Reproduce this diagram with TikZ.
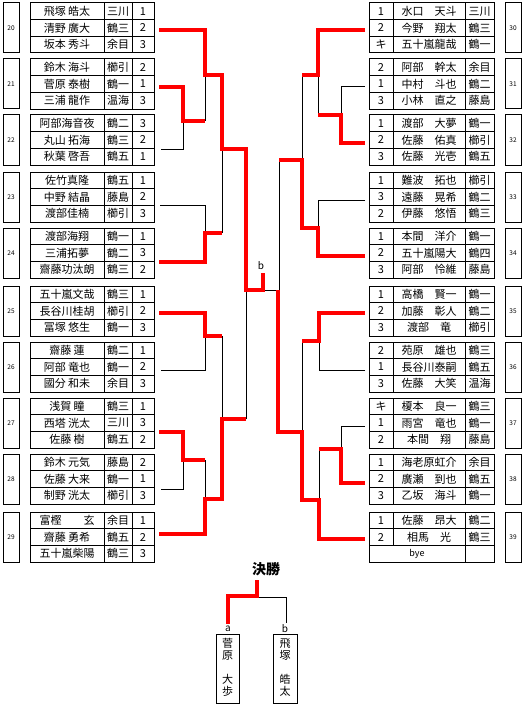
\documentclass[tikz,border=0pt]{standalone}
\usepackage{fontspec}
\setmainfont{Noto Sans CJK JP}
\begin{document}
\begin{tikzpicture}[x=1pt,y=-1pt,
  cell/.style={draw, line width=1pt, inner sep=0pt, outer sep=0pt, minimum height=16.667pt, anchor=north west, font=\fontsize{11}{11}\selectfont},
  lab/.style={draw, line width=1pt, inner sep=0pt, outer sep=0pt, minimum width=16pt, minimum height=50pt, anchor=north west, font=\fontsize{6.5}{6.5}\selectfont},
  win/.style={draw=red, line width=4pt, line join=miter},
  lose/.style={draw=black, line width=1pt},
  tag/.style={inner sep=0pt, font=\fontsize{10}{10}\selectfont}]
\useasboundingbox (0,0) rectangle (525,706);
\fill[white] (0,0) rectangle (525,706);

\newcommand\LG[3]{%
  \node[lab] (L#1) at (3,#2) {#1};
  \foreach \nm/\sc/\nu [count=\i] in {#3}{%
    \node[cell,minimum width=74pt] (L#1a\i) at ({30},{#2+(\i-1)*16.667}) {\nm};
    \node[cell,minimum width=28pt] (L#1b\i) at ({104},{#2+(\i-1)*16.667}) {\sc};
    \node[cell,minimum width=22pt] (L#1c\i) at ({132},{#2+(\i-1)*16.667}) {\nu};
  }%
}
\newcommand\RG[3]{%
  \node[lab] (R#1) at (505,#2) {#1};
  \foreach \nu/\nm/\sc [count=\i] in {#3}{%
    \node[cell,minimum width=24pt] (R#1a\i) at ({369},{#2+(\i-1)*16.667}) {\nu};
    \node[cell,minimum width=72pt] (R#1b\i) at ({393},{#2+(\i-1)*16.667}) {\nm};
    \node[cell,minimum width=29pt] (R#1c\i) at ({465},{#2+(\i-1)*16.667}) {\sc};
  }%
}

% ---- left groups
\LG{20}{3}{飛塚 皓太/三川/1, 清野 廣大/鶴三/2, 坂本 秀斗/余目/3}
\LG{21}{59}{鈴木 海斗/櫛引/2, 菅原 泰樹/鶴一/1, 三浦 龍作/温海/3}
\LG{22}{115}{阿部海音夜/鶴二/3, 丸山 拓海/鶴三/2, 秋葉 啓吾/鶴五/1}
\LG{23}{172}{佐竹真隆/鶴五/1, 中野 結晶/藤島/2, 渡部佳楠/櫛引/3}
\LG{24}{228}{渡部海翔/鶴一/1, 三浦拓夢/鶴二/3, 齋藤功汰朗/鶴三/2}
\LG{25}{286}{五十嵐文哉/鶴三/1, 長谷川桂胡/櫛引/2, 冨塚 悠生/鶴一/3}
\LG{26}{342}{齋藤 蓮/鶴二/1, 阿部 竜也/鶴一/2, 國分 和未/余目/3}
\LG{27}{398}{浅賀 瞳/鶴三/1, 西塔 洸太/三川/3, 佐藤 樹/鶴五/2}
\LG{28}{454}{鈴木 元気/藤島/2, 佐藤 大来/鶴一/1, 制野 洸太/櫛引/3}
\LG{29}{512}{富樫　　玄/余目/1, 齋藤 勇希/鶴五/2, 五十嵐柴陽/鶴三/3}

% ---- right groups
\RG{30}{3}{1/水口　天斗/三川, 2/今野　翔太/鶴三, キ/五十嵐龍哉/鶴一}
\RG{31}{59}{2/阿部　幹太/余目, 1/中村　斗也/鶴二, 3/小林　直之/藤島}
\RG{32}{115}{1/渡部　大夢/鶴一, 2/佐藤　佑真/櫛引, 3/佐藤　光壱/鶴五}
\RG{33}{172}{1/難波　拓也/櫛引, 3/遠藤　晃希/鶴二, 2/伊藤　悠悟/鶴三}
\RG{34}{228}{1/本間　洋介/鶴一, 2/五十嵐陽大/鶴四, 3/阿部　怜維/藤島}
\RG{35}{286}{1/高橋　賢一/鶴一, 2/加藤　彰人/鶴二, 3/渡部　竜/櫛引}
\RG{36}{342}{2/苑原　雄也/鶴三, 1/長谷川泰嗣/鶴五, 3/佐藤　大笑/温海}
\RG{37}{398}{キ/榎本　良一/鶴三, 1/雨宮　竜也/鶴一, 2/本間　翔/藤島}
\RG{38}{454}{1/海老原虹介/余目, 2/廣瀬　到也/鶴五, 3/乙坂　海斗/鶴一}
\RG{39}{512}{1/佐藤　昂大/鶴二, 2/相馬　光/鶴三}
\node[cell,minimum width=96pt,font=\fontsize{9}{9}\selectfont] (R39a3) at (369,545.33) {bye};
\node[cell,minimum width=29pt] (R39c3) at (465,545.33) {};

% ---- left bracket, losing lines
\draw[lose] (161,149) -- (183,149) -- (183,121);
\draw[lose] (205,121) -- (205,75);
\draw[lose] (160,205) -- (205,205) -- (205,233);
\draw[lose] (222,233) -- (222,149);
\draw[lose] (161,370) -- (205,370) -- (205,336);
\draw[lose] (222,336) -- (222,419);
\draw[lose] (161,489) -- (183,489) -- (183,460);
\draw[lose] (205,460) -- (205,499);
\draw[lose] (246,419) -- (246,290);
\draw[lose] (263,290) -- (279,290) -- (279,160);
% ---- right bracket, losing lines
\draw[lose] (365,87) -- (341,87) -- (341,115);
\draw[lose] (318,115) -- (318,75);
\draw[lose] (302,75) -- (302,160);
\draw[lose] (365,200) -- (318,200) -- (318,228);
\draw[lose] (365,370) -- (319,370) -- (319,341);
\draw[lose] (302,341) -- (302,432);
\draw[lose] (365,426) -- (341,426) -- (341,449);
\draw[lose] (319,449) -- (319,500);

% ---- left bracket, winning lines
\draw[win] (159,30) -- (205,30) -- (205,75) -- (222,75) -- (222,149) -- (246,149) -- (246,290) -- (263,290) -- (263,273);
\draw[win] (159,87) -- (183,87) -- (183,121) -- (205,121);
\draw[win] (159,262) -- (205,262) -- (205,233) -- (222,233);
\draw[win] (159,313) -- (205,313) -- (205,336) -- (222,336);
\draw[win] (159,432) -- (183,432) -- (183,460) -- (205,460);
\draw[win] (159,534) -- (205,534) -- (205,499) -- (222,499) -- (222,419) -- (246,419);
% ---- right bracket, winning lines
\draw[win] (365,30) -- (318,30) -- (318,75) -- (302,75);
\draw[win] (365,143) -- (341,143) -- (341,115) -- (318,115);
\draw[win] (365,256) -- (318,256) -- (318,228) -- (302,228) -- (302,160) -- (279,160);
\draw[win] (365,313) -- (319,313) -- (319,341) -- (302,341);
\draw[win] (365,483) -- (341,483) -- (341,449) -- (319,449);
\draw[win] (365,539) -- (319,539) -- (319,500) -- (302,500) -- (302,432) -- (278,432) -- (278,290);

\node[tag] (bmid) at (261,266) {b};

% ---- final
\node[font=\fontsize{14}{14}\selectfont\bfseries, inner sep=0pt] (kessho) at (266,569) {決勝};
\node[tag] (la) at (228,629) {a};
\node[tag] (lb) at (285,629) {b};
\node[draw, line width=1pt, inner sep=0pt, anchor=north west, minimum width=23pt, minimum height=69pt] (fa) at (216,634) {};
\node[draw, line width=1pt, inner sep=0pt, anchor=north west, minimum width=24pt, minimum height=69pt] (fb) at (273,634) {};
\node[align=center, inner sep=0pt, font=\fontsize{11}{12}\selectfont, anchor=north] (fat) at (227.5,638) {菅\\原\\[12pt]大\\歩};
\node[align=center, inner sep=0pt, font=\fontsize{11}{12}\selectfont, anchor=north] (fbt) at (285,638) {飛\\塚\\[12pt]皓\\太};
\coordinate (ftop) at (257,580);
\draw[lose] (257,597) -- (286,597) -- (286,623);
\draw[win] (ftop) -- (257,596) -- (228,596) -- (228,624);
\end{tikzpicture}
\end{document}
